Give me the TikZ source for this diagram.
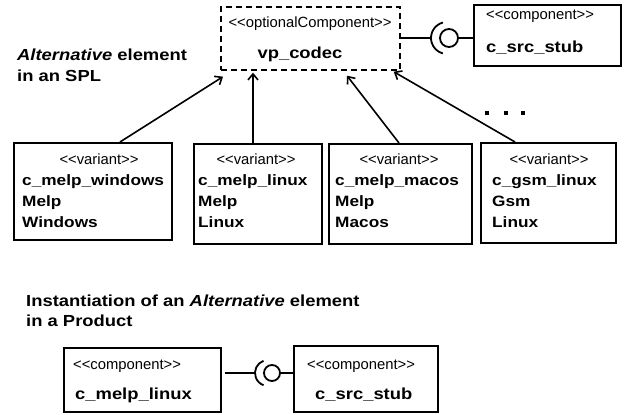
\documentclass[tikz,border=0pt]{standalone}
\usepackage{fontspec}
\setmainfont{Liberation Sans}
\newfontfamily\bfw[FakeStretch=1.15]{Liberation Sans}
\usetikzlibrary{arrows.meta}
\newcommand\lsq{<\kern0pt<}
\newcommand\rsq{>\kern0pt>}
\tikzset{
  box/.style={draw, line width=1.7pt, inner sep=0pt, anchor=north west},
  dbox/.style={box, dash pattern=on 6pt off 4pt},
  st/.style={font=\fontsize{14.8}{16}\selectfont, inner sep=0pt, anchor=base},
  stl/.style={st, anchor=base west},
  nm/.style={font=\bfw\bfseries\fontsize{15}{18}\selectfont, inner sep=0pt, anchor=base west},
  nmb/.style={font=\bfw\bfseries\fontsize{16}{18}\selectfont, inner sep=0pt, anchor=base west},
  ttl/.style={font=\bfw\bfseries\fontsize{16}{18}\selectfont, inner sep=0pt, anchor=base west},
  arr/.style={line width=1.6pt, -{Straight Barb[length=6pt,width=10pt]}},
  ln/.style={line width=1.8pt},
  ball/.style={circle, draw, line width=1.8pt, inner sep=0pt},
}
\begin{document}
\begin{tikzpicture}[x=1pt,y=1pt]
\useasboundingbox[fill=white] (0,0) rectangle (630,415);

% titles
\node[ttl] (t1) at (17,354) {{\itshape Alternative} element};
\node[ttl] (t2) at (17,333) {in an SPL};
\node[ttl] (t3) at (26,108) {Instantiation of an {\itshape Alternative} element};
\node[ttl] (t4) at (26,88) {in a Product};

% top boxes
\node[dbox, minimum width=179pt, minimum height=63pt] (vp) at (220,409) {};
\node[st] (vps) at (310,387) {\lsq optionalComponent\rsq};
\node[nmb, anchor=base] (vpn) at (300,356) {vp\_codec};

\node[box, minimum width=147pt, minimum height=61pt] (src) at (473,411) {};
\node[stl] (srcs) at (486,395) {\lsq component\rsq};
\node[nmb] (srcn) at (486,362) {c\_src\_stub};

% top lollipop
\coordinate (s1) at (431,377);
\draw[ln] (vp.east |- s1) -- (s1);
\draw[ln] ([shift={(105:16)}]447,377) arc (105:255:16);
\node[ball, minimum size=18pt] (b1) at (449,377) {};
\draw[ln] (b1.east) -- (b1.east -| src.west);

% variant boxes
\node[box, minimum width=158pt, minimum height=97pt] (v1) at (13,273) {};
\node[st] at (99,250) {\lsq variant\rsq};
\node[nm] at (22,229.5) {c\_melp\_windows};
\node[nm] at (22,208) {Melp};
\node[nm] at (22,187.5) {Windows};

\node[box, minimum width=128pt, minimum height=100pt] (v2) at (193,272) {};
\node[st] at (256,250) {\lsq variant\rsq};
\node[nm] at (198,229.5) {c\_melp\_linux};
\node[nm] at (198,208) {Melp};
\node[nm] at (198,187.5) {Linux};

\node[box, minimum width=143pt, minimum height=100pt] (v3) at (328,272) {};
\node[st] at (399,250) {\lsq variant\rsq};
\node[nm] at (335,229.5) {c\_melp\_macos};
\node[nm] at (335,208) {Melp};
\node[nm] at (335,187.5) {Macos};

\node[box, minimum width=135pt, minimum height=100pt] (v4) at (480,273) {};
\node[st] at (549,250) {\lsq variant\rsq};
\node[nm] at (492,229.5) {c\_gsm\_linux};
\node[nm] at (492,208) {Gsm};
\node[nm] at (492,187.5) {Linux};

% arrows
\draw[arr] ([xshift=107pt]v1.north west) -- ([xshift=3pt,yshift=-6pt]vp.south west);
\draw[arr] ([xshift=60pt]v2.north west) -- ([xshift=33pt,yshift=-2pt]vp.south west);
\draw[arr] ([xshift=71pt]v3.north west) -- ([xshift=127pt,yshift=-5pt]vp.south west);
\draw[arr] ([xshift=35pt]v4.north west) -- ([xshift=-7pt,yshift=-1pt]vp.south east);

% dots
\foreach \dx in {487,506,523} \fill (\dx-2,300) rectangle (\dx+2,304);

% bottom boxes
\node[box, minimum width=157pt, minimum height=64pt] (ba) at (63,68) {};
\node[stl] at (73,45) {\lsq component\rsq};
\node[nmb] at (75,15) {c\_melp\_linux};

\node[box, minimum width=144pt, minimum height=66pt] (bb) at (293,70) {};
\node[stl] at (307,45) {\lsq component\rsq};
\node[nmb] at (315,15) {c\_src\_stub};

% bottom lollipop
\coordinate (s2) at (255,42);
\draw[ln] ([xshift=3pt]ba.east |- s2) -- (s2);
\draw[ln] ([shift={(110:13)}]268,42) arc (110:250:13);
\node[ball, minimum size=16pt] (b2) at (272,42) {};
\draw[ln] (b2.east) -- (b2.east -| bb.west);
\end{tikzpicture}
\end{document}
